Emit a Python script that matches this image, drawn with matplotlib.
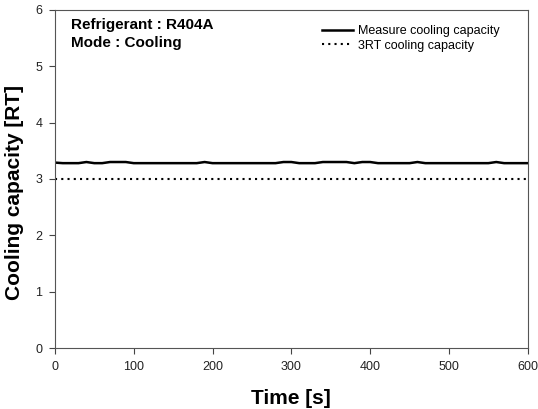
import matplotlib.pyplot as plt
import numpy as np

plt.rcParams['font.family'] = ['Liberation Sans', 'DejaVu Sans']

# time in seconds and measured cooling capacity (RT)
time_s = np.arange(0, 601, 10)
measured_rt = [3.29, 3.28, 3.28, 3.28, 3.30, 3.28, 3.28, 3.30, 3.30, 3.30,
               3.28, 3.28, 3.28, 3.28, 3.28, 3.28, 3.28, 3.28, 3.28, 3.30,
               3.28, 3.28, 3.28, 3.28, 3.28, 3.28, 3.28, 3.28, 3.28, 3.30,
               3.30, 3.28, 3.28, 3.28, 3.30, 3.30, 3.30, 3.30, 3.28, 3.30,
               3.30, 3.28, 3.28, 3.28, 3.28, 3.28, 3.30, 3.28, 3.28, 3.28,
               3.28, 3.28, 3.28, 3.28, 3.28, 3.28, 3.30, 3.28, 3.28, 3.28,
               3.28]
rated_x = [0, 600]
rated_rt = [3.0, 3.0]

fig = plt.figure(figsize=(5.38, 4.09), dpi=100)
ax = fig.add_axes([0.102, 0.149, 0.879, 0.827])

ax.plot(time_s, measured_rt, color='black', linewidth=1.8, label='Measure cooling capacity')
ax.plot(rated_x, rated_rt, color='black', linewidth=1.5, linestyle=(0, (1, 2)),
        label='3RT cooling capacity')

ax.set_xlim(0, 600)
ax.set_ylim(0, 6)
ax.set_xticks([0, 100, 200, 300, 400, 500, 600])
ax.set_yticks([0, 1, 2, 3, 4, 5, 6])
ax.tick_params(direction='out', length=4, labelsize=9, color='#444444',
               labelcolor='#222222', pad=5)
for s in ax.spines.values():
    s.set_color('#555555')

ax.set_xlabel('Time [s]', fontsize=15, fontweight='bold', labelpad=12)
ax.set_ylabel('Cooling capacity [RT]', fontsize=15, fontweight='bold')
ax.yaxis.set_label_coords(-0.066, 0.459)

ax.text(0.034, 0.975, 'Refrigerant : R404A\nMode : Cooling', transform=ax.transAxes,
        fontsize=11, fontweight='bold', va='top', linespacing=1.35)

ax.legend(loc='upper right', bbox_to_anchor=(0.964, 0.988), frameon=False, fontsize=9,
          handlelength=2.5, handletextpad=0.4, labelspacing=0.2, borderaxespad=0.5)

fig.savefig('out.png', dpi=100)
